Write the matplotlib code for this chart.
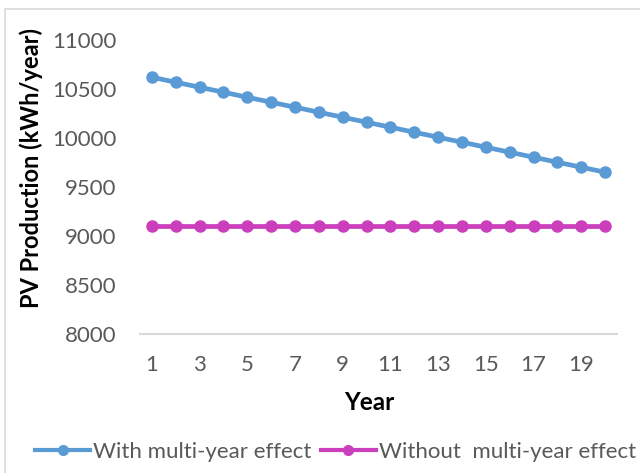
import matplotlib
matplotlib.use("Agg")
import matplotlib.pyplot as plt
from matplotlib.lines import Line2D
from matplotlib.patches import Rectangle

plt.rcParams['font.family'] = ['Lato', 'DejaVu Sans']

years = list(range(1, 21))
with_effect = [10620, 10569, 10518, 10467, 10416, 10365, 10314, 10263, 10212, 10161,
               10110, 10059, 10008, 9957, 9906, 9855, 9804, 9753, 9702, 9651]
without_effect = [9100] * 20
year_ticks = [1, 3, 5, 7, 9, 11, 13, 15, 17, 19]
y_ticks = [8000, 8500, 9000, 9500, 10000, 10500, 11000]

blue = '#5B9BD5'
pink = '#CC3FBC'
gray_text = '#595959'

fig = plt.figure(figsize=(6.4, 4.73), dpi=100)
ax = fig.add_axes([140 / 640, 1 - 334 / 473, 477 / 640, (334 - 40) / 473])

ax.plot(years, with_effect, color=blue, lw=3.4, marker='o', ms=8,
        label='With multi-year effect', solid_capstyle='round')
ax.plot(years, without_effect, color=pink, lw=3.4, marker='o', ms=8,
        label='Without  multi-year effect', solid_capstyle='round')

ax.set_xlim(0.5, 20.5)
ax.set_ylim(8000, 11000)
ax.set_xticks(year_ticks)
ax.set_yticks(y_ticks)
ax.tick_params(axis='both', length=0, labelsize=16, colors=gray_text)
ax.tick_params(axis='x', pad=15)
ax.tick_params(axis='y', pad=17)

for side in ['top', 'right', 'left']:
    ax.spines[side].set_visible(False)
ax.spines['bottom'].set_color('#D9D9D9')
ax.spines['bottom'].set_linewidth(1.5)

ax.set_xlabel('Year', fontsize=17.5, fontweight='bold', color='black')
ax.xaxis.set_label_coords(0.48, -0.193)
ax.set_ylabel('PV Production (kWh/year)', fontsize=17, fontweight='bold',
              color='black')
ax.yaxis.set_label_coords(-0.203, 0.563)

handles = [Line2D([], [], color=blue, lw=3, marker='o', ms=7),
           Line2D([], [], color=pink, lw=3, marker='o', ms=7)]
fig.legend(handles, ['With multi-year effect', 'Without  multi-year effect'],
           loc='center', bbox_to_anchor=(335.5 / 640, 1 - 452 / 473), ncol=2,
           frameon=False, fontsize=16, handlelength=2.48, handletextpad=0.13,
           columnspacing=0.4, labelcolor=gray_text, borderpad=0)

# chart area outline
fig.patches.append(Rectangle((5 / 640, -0.01), 1.0, 1 - 9 / 473 + 0.01,
                             transform=fig.transFigure, fill=False,
                             edgecolor='#D9D9D9', lw=1.2))

fig.savefig('out.png', dpi=100)
